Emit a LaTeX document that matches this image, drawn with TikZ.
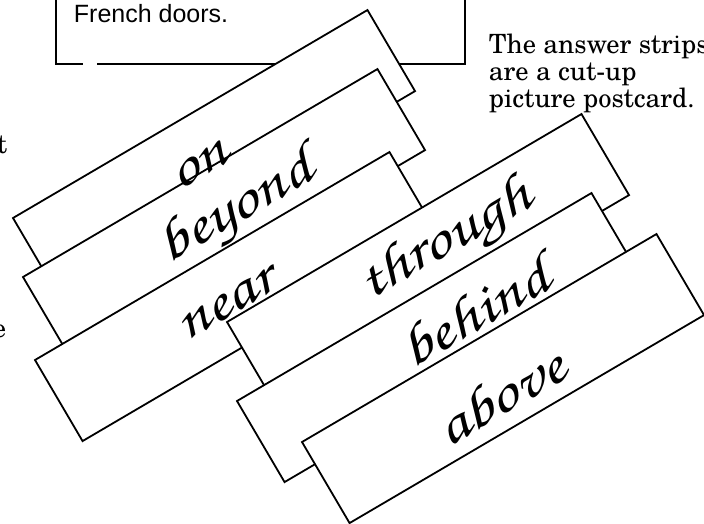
\documentclass[tikz,border=0pt]{standalone}
\usepackage{fontspec}
\setmainfont{texgyreschola-regular.otf}
\newfontfamily\boxfont{Liberation Sans}
\newfontfamily\handfont[FakeStretch=1.25]{texgyrechorus-mediumitalic.otf}
\usetikzlibrary{positioning}

\begin{document}
\begin{tikzpicture}[
	x=1pt, y=-1pt,
	line width=1.8pt,
	strip/.style={draw, fill=white, minimum width=411pt, minimum height=94pt, inner sep=0pt, outer sep=0pt, anchor=north west, rotate=30.4},
	word/.style={font=\handfont\fontsize{56}{56}\selectfont, inner sep=0pt, rotate=30},
	note/.style={font=\fontsize{26.5}{27}\selectfont, inner sep=0pt, align=left}
]
\useasboundingbox (0,0) rectangle (704,523);

% --- Question card, cut off at the top ---
\draw (56,-10) -- (56,64) -- (83,64);
\draw (97,64) -- (465,64) -- (465,-10);
\node[font=\boxfont\fontsize{25}{30}\selectfont, inner sep=0pt, anchor=base west] (doors) at (73,22) {French doors.};

% --- Margin text ---
\node[note, anchor=north west] (postcard) at (488,33) {The answer strips\\are a cut-up\\picture postcard.};
\node[note, anchor=base east] (tfrag) at (8,153) {t};
\node[note, anchor=base east] (efrag) at (7,337) {e};

% --- Answer strips, back to front ---
\node[strip] (son) at (13,218) {};
\node[strip] (sbeyond) at (23,277) {};
\node[strip] (snear) at (35,360) {};
\node[strip] (sthrough) at (227,322) {};
\node[strip] (sbehind) at (237,401) {};
\node[strip] (sabove) at (302,442) {};

% --- Handwritten words ---
\node[word] (won) at (200,166) {on};
\node[word] (wbeyond) at (237,210) {beyond};
\node[word] (wnear) at (227,305) {near};
\node[word] (wthrough) at (446,242) {through};
\node[word] (wbehind) at (474,312) {behind};
\node[word] (wabove) at (500,396) {above};

\end{tikzpicture}
\end{document}
